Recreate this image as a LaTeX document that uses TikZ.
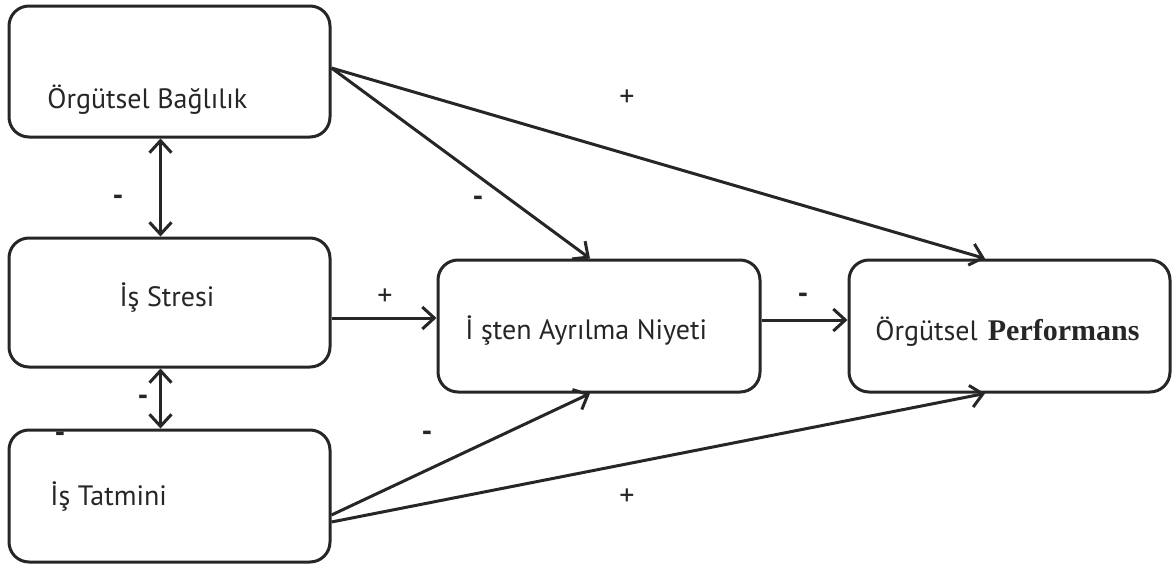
\documentclass[tikz,border=0pt]{standalone}
\usepackage{fontspec}
\setmainfont{PT Sans}
\newfontfamily\serifb{Liberation Serif}
\usetikzlibrary{arrows.meta}
\begin{document}
\begin{tikzpicture}[x=0.5pt,y=-0.5pt,
  box/.style={draw=black!85, line width=1.5pt, rounded corners=10pt, inner sep=0pt},
  lbl/.style={inner sep=0pt, font=\fontsize{14}{16}\selectfont, text=black!85},
  sgn/.style={inner sep=0pt, font=\fontsize{15}{17}\selectfont, text=black!85},
  msgn/.style={inner sep=0pt, font=\fontsize{15}{17}\selectfont\bfseries, text=black!85},
  arr/.style={draw=black!85, line width=1.5pt, -{Straight Barb[length=6pt,width=11pt,line width=1.5pt]}},
  darr/.style={draw=black!85, line width=1.5pt, {Straight Barb[length=6pt,width=11pt,line width=1.5pt]}-{Straight Barb[length=6pt,width=11pt,line width=1.5pt]}}]
\useasboundingbox (0,0) rectangle (1175,568);
\node[box, minimum width=160.5pt, minimum height=65.5pt] (A) at (169.5,71.5) {};
\node[box, minimum width=160.5pt, minimum height=64.5pt] (B) at (169.5,302.5) {};
\node[box, minimum width=160.5pt, minimum height=66pt] (C) at (169.5,496) {};
\node[box, minimum width=161pt, minimum height=66pt] (D) at (599,326) {};
\node[box, minimum width=160.5pt, minimum height=66pt] (E) at (1009.5,326) {};
\node[lbl, anchor=west] (tA) at (47,100) {Örgütsel Bağlılık};
\node[lbl] (tB) at (167,298) {İş Stresi};
\node[lbl, anchor=west] (tC) at (50,497) {İş Tatmini};
\node[lbl, anchor=west] (tD) at (465,331) {İ şten Ayrılma Niyeti};
\node[lbl, anchor=west] (tE) at (875,332) {Örgütsel\hspace{5pt}{\serifb\bfseries\fontsize{15}{17}\selectfont Performans}};
\draw[darr] ([xshift=-4.5pt]A.south) -- ([xshift=-4.5pt]B.north);
\draw[darr] ([xshift=-4.5pt]B.south) -- ([xshift=-4.5pt]C.north);
\draw[arr] ([yshift=-7.75pt]B.east) -- ([yshift=4pt]D.west);
\draw[arr] ([yshift=3pt]D.east) -- ([yshift=3pt]E.west);
\draw[arr] ([yshift=1.75pt]A.east) -- ([xshift=-4.5pt]D.north);
\draw[arr] ([yshift=1.75pt]A.east) -- ([xshift=-12.25pt]E.north);
\draw[arr] ([yshift=-9.5pt]C.east) -- ([xshift=-4.5pt]D.south);
\draw[arr] ([yshift=-13pt]C.east) -- ([xshift=-12.25pt]E.south);
\node[sgn] (s1) at (627,98) {+};
\node[msgn] (s2) at (118,200) {-};
\node[msgn] (s3) at (478,201) {-};
\node[sgn] (s4) at (385,297) {+};
\node[msgn] (s5) at (803,298) {-};
\node[msgn] (s6) at (143,400) {-};
\node[msgn] (s7) at (60,437) {-};
\node[msgn] (s8) at (427,436) {-};
\node[sgn] (s9) at (627,497) {+};
\end{tikzpicture}
\end{document}
